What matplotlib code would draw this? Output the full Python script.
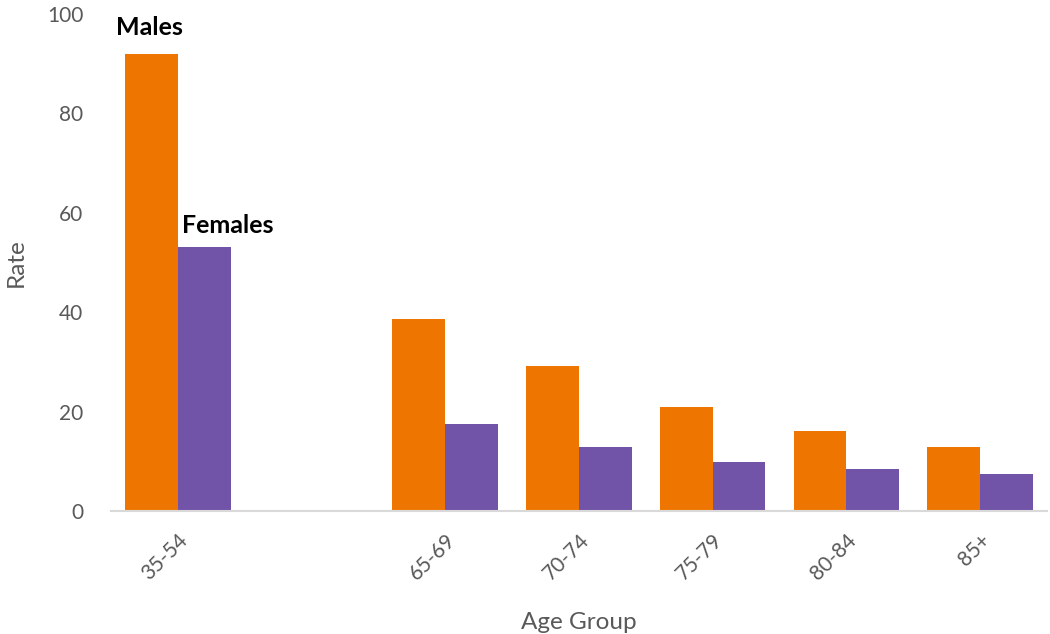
import matplotlib.pyplot as plt
import numpy as np

plt.rcParams['font.family'] = ['Lato', 'DejaVu Sans']

age_groups = ["35-54", "", "65-69", "70-74", "75-79", "80-84", "85+"]
males = [91.9, 0, 38.6, 29.1, 21.0, 16.1, 12.9]
females = [53.2, 0, 17.6, 12.9, 9.8, 8.5, 7.4]

orange = '#EE7600'
purple = '#7153A8'
grey = '#595959'

fig = plt.figure(figsize=(10.5, 6.34), dpi=100)
ax = fig.add_axes([0.1057, 0.194, 0.8914, 0.784])

x = np.arange(len(age_groups))
w = 0.395
ax.bar(x - w / 2, males, width=w, color=orange)
ax.bar(x + w / 2, females, width=w, color=purple)

ax.set_xlim(-0.5, len(age_groups) - 0.5)
ax.set_ylim(0, 100)
ax.set_yticks([0, 20, 40, 60, 80, 100])
ax.set_xticks(x)
ax.set_xticklabels(age_groups, rotation=45, ha='right', rotation_mode='anchor')

for s in ['top', 'right', 'left']:
    ax.spines[s].set_visible(False)
ax.spines['bottom'].set_color('#D9D9D9')
ax.spines['bottom'].set_linewidth(1.5)
ax.tick_params(axis='both', length=0, labelsize=15, colors=grey)
ax.tick_params(axis='x', pad=14)
ax.tick_params(axis='y', pad=20)

ax.set_xlabel("Age Group", fontsize=17.5, color=grey, labelpad=20)
ax.set_ylabel("Rate", fontsize=17.5, color=grey)
ax.yaxis.set_label_coords(-0.09, 0.5)

ax.text(-0.46, males[0] + 3.0, "Males", fontsize=18, fontweight='bold', va='bottom')
ax.text(0.03, females[0] + 2.0, "Females", fontsize=18, fontweight='bold', va='bottom')

fig.savefig('out.png', dpi=100)
